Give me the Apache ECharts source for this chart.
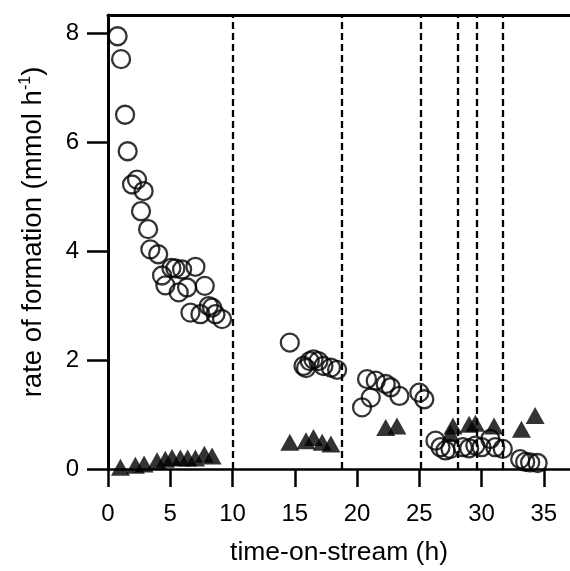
<!DOCTYPE html>
<html>
<head>
<meta charset="utf-8">
<script src="https://cdn.jsdelivr.net/npm/echarts@6/dist/echarts.min.js"></script>
<style>html,body{margin:0;padding:0;background:#fff}#c{width:570px;height:571px}</style>
</head>
<body>
<div id="c"></div>
<script>
// time-on-stream (h), rate of formation (mmol h-1)
const circleX = [0.77,1.05,1.37,1.58,1.93,2.33,2.86,2.65,3.22,3.40,4.03,4.34,5.09,5.41,5.95,7.02,4.61,5.68,6.35,7.77,6.62,7.42,8.09,8.36,8.63,9.16,
  14.6,15.7,15.9,16.2,16.5,16.9,17.3,17.9,18.4,
  20.4,20.8,21.1,21.5,22.3,22.7,23.4,
  25.0,25.4,
  26.3,26.7,27.1,27.5,28.5,29.0,29.5,30.0,30.7,31.1,31.7,33.1,33.5,33.9,34.5];
const circleY = [7.94,7.52,6.50,5.83,5.22,5.31,5.10,4.73,4.40,4.03,3.94,3.55,3.69,3.68,3.66,3.71,3.37,3.24,3.33,3.36,2.87,2.84,2.99,2.96,2.84,2.75,
  2.32,1.89,1.85,1.98,2.01,1.98,1.89,1.86,1.82,
  1.13,1.65,1.31,1.62,1.56,1.50,1.34,
  1.40,1.28,
  0.52,0.40,0.34,0.37,0.40,0.38,0.43,0.40,0.55,0.40,0.37,0.18,0.13,0.12,0.11];
const triX = [1.0,2.2,2.9,3.94,4.6,5.14,5.81,6.4,7.02,7.74,8.36,
  14.6,15.9,16.5,17.2,17.9,
  22.3,23.2,
  27.5,27.7,29.0,29.5,31.0,33.2,34.3];
const triY = [0.03,0.07,0.09,0.15,0.18,0.21,0.20,0.20,0.20,0.27,0.24,
  0.49,0.52,0.58,0.49,0.46,
  0.76,0.79,
  0.65,0.79,0.82,0.84,0.79,0.73,0.98];
const dividers = [10, 18.8, 25.1, 28.1, 29.6, 31.7];
const xTicks = [0,5,10,15,20,25,30,35];
const yTicks = [0,2,4,6,8];

const chart = echarts.init(document.getElementById('c'), null, {renderer:'canvas'});
const font = 'Liberation Sans, Arial, Helvetica, sans-serif';
const circles = circleX.map((x,i)=>[x, circleY[i]]);
const tris = triX.map((x,i)=>[x, triY[i]]);

chart.setOption({
  animation:false,
  backgroundColor:'#fff',
  grid:{left:108, top:15, right:0, bottom:101, containLabel:false},
  xAxis:[{
    type:'value', min:0, max:37.1, position:'bottom',
    axisLine:{show:true, onZero:false, lineStyle:{color:'#000', width:2.5}},
    axisTick:{show:true, inside:false, length:18, lineStyle:{color:'#000', width:2.5}, customValues:xTicks},
    axisLabel:{color:'#000', fontFamily:font, fontSize:24, margin:33, customValues:xTicks},
    splitLine:{show:false},
    name:'time-on-stream (h)', nameLocation:'middle', nameGap:70,
    nameTextStyle:{color:'#000', fontFamily:font, fontSize:26.5}
  },{
    type:'value', min:0, max:37.1, position:'top',
    axisLine:{show:true, onZero:false, lineStyle:{color:'#000', width:3}},
    axisTick:{show:false}, axisLabel:{show:false}, splitLine:{show:false}
  }],
  yAxis:{
    type:'value', min:0, max:8.33,
    axisLine:{show:true, onZero:false, lineStyle:{color:'#000', width:3}},
    axisTick:{show:true, inside:false, length:21, lineStyle:{color:'#000', width:2.5}, customValues:yTicks},
    axisLabel:{color:'#000', fontFamily:font, fontSize:24, margin:29, customValues:yTicks},
    splitLine:{show:false},
    name:'{a|rate of formation (mmol h}{s|-1}{a|)}', nameLocation:'middle', nameGap:60, nameRotate:90,
    nameTextStyle:{color:'#000', fontFamily:font, fontSize:27.5, padding:[0,0,0,20],
      rich:{a:{fontFamily:font, fontSize:27.5, color:'#000'}, s:{fontFamily:font, fontSize:16, color:'#000', padding:[0,0,14,0]}}}
  },
  series:[{
    type:'scatter', name:'circles', data:circles, symbol:'circle', symbolSize:18,
    itemStyle:{color:'rgba(255,255,255,0)', borderColor:'#000', borderWidth:2.3},
    silent:true,
    markLine:{
      silent:true, symbol:['none','none'], label:{show:false},
      lineStyle:{color:'#000', type:[7,4], width:2.3},
      emphasis:{disabled:true},
      data: dividers.map(v=>({xAxis:v}))
    }
  },{
    type:'scatter', name:'triangles', data:tris, symbol:'triangle', symbolSize:[19,17],
    itemStyle:{color:'#000'}, silent:true
  }]
});
</script>
</body>
</html>
